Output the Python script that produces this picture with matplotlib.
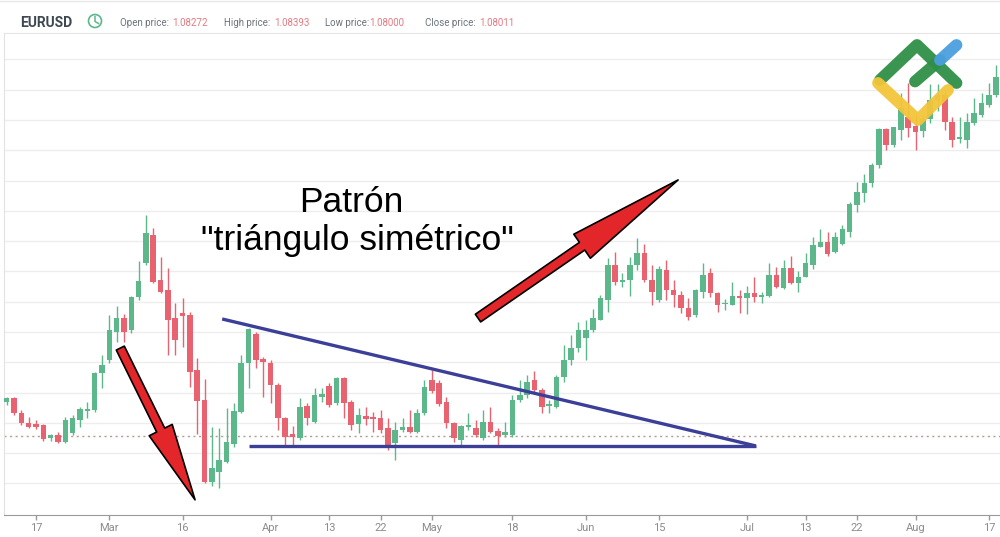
import numpy as np
import pandas as pd
import matplotlib
matplotlib.use("Agg")
import matplotlib.pyplot as plt
from matplotlib.patches import FancyArrowPatch, ArrowStyle, Circle
from matplotlib.lines import Line2D

# ---------------- data (EURUSD daily) ----------------
start_date = "2020-02-11"
end_date = "2020-08-18"

open_ = [1.0912, 1.0925, 1.0876, 1.0843, 1.0840, 1.0836, 1.0793, 1.0803, 1.0780, 1.0810,
         1.0853, 1.0883, 1.0886, 1.1008, 1.1051, 1.1143, 1.1189, 1.1150, 1.1259, 1.1371,
         1.1463, 1.1315, 1.1282, 1.1189, 1.1206, 1.1199, 1.1018, 1.0919, 1.0648, 1.0681,
         1.0714, 1.0774, 1.0879, 1.1041, 1.1137, 1.1054, 1.1041, 1.0968, 1.0859, 1.0807,
         1.0793, 1.0899, 1.0846, 1.0929, 1.0965, 1.0909, 1.0991, 1.0912, 1.0840, 1.0866,
         1.0863, 1.0859, 1.0826, 1.0777, 1.0820, 1.0830, 1.0813, 1.0876, 1.0985, 1.0975,
         1.0912, 1.0843, 1.0787, 1.0830, 1.0826, 1.0793, 1.0846, 1.0817, 1.0803, 1.0803,
         1.0919, 1.0935, 1.0985, 1.0952, 1.0899, 1.0896, 1.0995, 1.1051, 1.1090, 1.1123,
         1.1150, 1.1183, 1.1249, 1.1364, 1.1308, 1.1315, 1.1364, 1.1404, 1.1315, 1.1249,
         1.1348, 1.1282, 1.1265, 1.1222, 1.1199, 1.1275, 1.1338, 1.1272, 1.1236, 1.1232,
         1.1262, 1.1255, 1.1272, 1.1259, 1.1262, 1.1331, 1.1288, 1.1354, 1.1305, 1.1325,
         1.1364, 1.1424, 1.1440, 1.1407, 1.1434, 1.1473, 1.1562, 1.1602, 1.1635, 1.1694,
         1.1813, 1.1760, 1.1810, 1.1853, 1.1823, 1.1806, 1.1847, 1.1909, 1.1924, 1.1836,
         1.1780, 1.1777, 1.1833, 1.1859, 1.1892, 1.1925]
high = [1.0929, 1.0929, 1.0886, 1.0863, 1.0853, 1.0840, 1.0807, 1.0813, 1.0863, 1.0869,
        1.0896, 1.0912, 1.1011, 1.1067, 1.1199, 1.1229, 1.1203, 1.1262, 1.1378, 1.1529,
        1.1486, 1.1391, 1.1354, 1.1239, 1.1255, 1.1209, 1.1057, 1.0988, 1.0830, 1.0826,
        1.0892, 1.0909, 1.1067, 1.1156, 1.1143, 1.1061, 1.1051, 1.0975, 1.0863, 1.0833,
        1.0925, 1.0909, 1.0958, 1.0958, 1.0975, 1.0995, 1.0995, 1.0919, 1.0892, 1.0896,
        1.0879, 1.0886, 1.0859, 1.0846, 1.0859, 1.0886, 1.0889, 1.0985, 1.1018, 1.0985,
        1.0929, 1.0846, 1.0836, 1.0876, 1.0853, 1.0886, 1.0896, 1.0826, 1.0846, 1.0935,
        1.0985, 1.1001, 1.1015, 1.0958, 1.0919, 1.1001, 1.1100, 1.1133, 1.1176, 1.1183,
        1.1219, 1.1265, 1.1387, 1.1407, 1.1338, 1.1391, 1.1453, 1.1434, 1.1364, 1.1361,
        1.1381, 1.1315, 1.1279, 1.1255, 1.1285, 1.1371, 1.1354, 1.1275, 1.1252, 1.1308,
        1.1282, 1.1295, 1.1325, 1.1275, 1.1371, 1.1358, 1.1381, 1.1394, 1.1345, 1.1404,
        1.1457, 1.1483, 1.1473, 1.1473, 1.1496, 1.1572, 1.1638, 1.1665, 1.1701, 1.1816,
        1.1816, 1.1820, 1.1932, 1.1965, 1.1859, 1.1856, 1.1962, 1.1962, 1.1935, 1.1853,
        1.1853, 1.1866, 1.1915, 1.1932, 1.1965, 1.2024]
low = [1.0902, 1.0869, 1.0836, 1.0826, 1.0823, 1.0784, 1.0784, 1.0777, 1.0777, 1.0803,
       1.0830, 1.0859, 1.0879, 1.0958, 1.1041, 1.1110, 1.1110, 1.1140, 1.1249, 1.1364,
       1.1305, 1.1272, 1.1067, 1.1067, 1.1094, 1.0962, 1.0807, 1.0645, 1.0635, 1.0628,
       1.0711, 1.0764, 1.0876, 1.0958, 1.1024, 1.0929, 1.0909, 1.0820, 1.0770, 1.0767,
       1.0787, 1.0836, 1.0843, 1.0912, 1.0896, 1.0902, 1.0859, 1.0820, 1.0810, 1.0836,
       1.0813, 1.0810, 1.0754, 1.0721, 1.0813, 1.0810, 1.0810, 1.0869, 1.0942, 1.0899,
       1.0826, 1.0780, 1.0767, 1.0820, 1.0797, 1.0787, 1.0810, 1.0770, 1.0797, 1.0797,
       1.0912, 1.0925, 1.0942, 1.0876, 1.0876, 1.0892, 1.0978, 1.1034, 1.1077, 1.1051,
       1.1143, 1.1183, 1.1209, 1.1298, 1.1292, 1.1262, 1.1348, 1.1308, 1.1232, 1.1242,
       1.1249, 1.1226, 1.1206, 1.1183, 1.1193, 1.1255, 1.1259, 1.1209, 1.1216, 1.1232,
       1.1206, 1.1203, 1.1242, 1.1239, 1.1259, 1.1288, 1.1285, 1.1302, 1.1275, 1.1325,
       1.1351, 1.1424, 1.1394, 1.1404, 1.1430, 1.1457, 1.1539, 1.1572, 1.1622, 1.1684,
       1.1744, 1.1754, 1.1777, 1.1787, 1.1744, 1.1788, 1.1833, 1.1872, 1.1810, 1.1754,
       1.1767, 1.1750, 1.1826, 1.1853, 1.1886, 1.1919]
close = [1.0925, 1.0876, 1.0843, 1.0830, 1.0830, 1.0790, 1.0803, 1.0780, 1.0853, 1.0859,
         1.0889, 1.0889, 1.1008, 1.1034, 1.1150, 1.1189, 1.1143, 1.1259, 1.1312, 1.1470,
         1.1308, 1.1275, 1.1183, 1.1117, 1.1196, 1.1011, 1.0916, 1.0648, 1.0694, 1.0721,
         1.0780, 1.0883, 1.1041, 1.1153, 1.1051, 1.1044, 1.0968, 1.0859, 1.0797, 1.0797,
         1.0896, 1.0859, 1.0935, 1.0939, 1.0902, 1.0991, 1.0909, 1.0836, 1.0869, 1.0856,
         1.0856, 1.0820, 1.0770, 1.0820, 1.0830, 1.0813, 1.0876, 1.0962, 1.0949, 1.0906,
         1.0843, 1.0793, 1.0833, 1.0836, 1.0803, 1.0846, 1.0813, 1.0800, 1.0813, 1.0919,
         1.0935, 1.0978, 1.0952, 1.0896, 1.0906, 1.0995, 1.1051, 1.1090, 1.1150, 1.1150,
         1.1189, 1.1255, 1.1364, 1.1308, 1.1315, 1.1364, 1.1404, 1.1315, 1.1275, 1.1351,
         1.1282, 1.1265, 1.1222, 1.1193, 1.1282, 1.1331, 1.1272, 1.1232, 1.1239, 1.1262,
         1.1255, 1.1272, 1.1259, 1.1265, 1.1331, 1.1292, 1.1354, 1.1305, 1.1325, 1.1371,
         1.1430, 1.1440, 1.1401, 1.1457, 1.1483, 1.1566, 1.1605, 1.1635, 1.1694, 1.1813,
         1.1760, 1.1820, 1.1882, 1.1816, 1.1803, 1.1847, 1.1909, 1.1924, 1.1836, 1.1777,
         1.1787, 1.1836, 1.1866, 1.1899, 1.1925, 1.1985]

tick_dates = ["2020-02-17", "2020-03-02", "2020-03-16", "2020-04-01", "2020-04-13",
              "2020-04-22", "2020-05-01", "2020-05-18", "2020-06-01", "2020-06-15",
              "2020-07-01", "2020-07-13", "2020-07-22", "2020-08-03", "2020-08-17"]
tick_labels = ["17", "Mar", "16", "Apr", "13", "22", "May", "18", "Jun", "15",
               "Jul", "13", "22", "Aug", "17"]

header_symbol = "EURUSD"
header_fields = ["Open price:", "High price:", "Low price:", "Close price:"]
header_values = ["1.08272", "1.08393", "1.08000", "1.08011"]
last_close_level = 1.0801

# triangle pattern lines (date index, price) and arrows
upper_line_x = [29.4, 102.2]
upper_line_y = [1.1186, 1.0767]
support_x = [33.1, 102.2]
support_y = [1.0767, 1.0767]
arrow_down = [(15.5, 1.1090), (25.7, 1.0589)]
arrow_up = [(64.3, 1.1189), (91.6, 1.1645)]

title_lines = ["Patrón", "\"triángulo simétrico\""]

# ---------------- figure ----------------
W, H = 1000, 537
fig = plt.figure(figsize=(W / 100, H / 100), dpi=100)
fig.patch.set_facecolor("white")

ax = fig.add_axes([4 / W, 1 - 515 / H, 996 / W, (515 - 33) / H])

dates = pd.bdate_range(start_date, end_date)
x = np.arange(len(dates))
o = np.array(open_); c = np.array(close); hi = np.array(high); lo = np.array(low)
up = c >= o
green = "#5cb88a"
red = "#e8636f"
cols = np.where(up, green, red)

ax.vlines(x, lo, hi, colors=cols, lw=1.0, zorder=2)
body = np.maximum(np.abs(c - o), 0.00012)
ax.bar(x, body, bottom=np.minimum(o, c), width=0.76, color=cols, zorder=3, linewidth=0)

# grid
ppx = 7.33
ax.set_xlim(4 - 32 / ppx, 4 + 964 / ppx)
ax.set_ylim(1.0539, 1.2130)
for g in np.arange(1.0643, 1.2100, 0.01):
    ax.axhline(g, color="#ededed", lw=1, zorder=0)
ax.axhline(last_close_level, color="#b59a8e", lw=1, ls=(0, (1.5, 2.5)), zorder=1)

# ticks
tick_idx = dates.get_indexer(pd.to_datetime(tick_dates))
ax.set_xticks(tick_idx)
ax.set_xticklabels(tick_labels, family="Roboto")
ax.tick_params(axis="x", length=3.5, width=1, color="#9a9a9a", labelsize=8,
               labelcolor="#8c8c8c", pad=2)
ax.set_yticks([])
ax.spines["right"].set_visible(False)
ax.spines["bottom"].set_color("#9a9a9a")
ax.spines["left"].set_color("#e2e2e2")
ax.spines["top"].set_color("#e6e6e6")

# pattern lines
ax.plot(upper_line_x, upper_line_y, color="#3c3f98", lw=2.4, zorder=4, solid_capstyle="butt")
ax.plot(support_x, support_y, color="#3c3f98", lw=2.4, zorder=4, solid_capstyle="butt")

# arrows
a1 = FancyArrowPatch(arrow_down[0], arrow_down[1],
                     arrowstyle=ArrowStyle.Simple(head_length=1.0, head_width=0.33, tail_width=0.115),
                     mutation_scale=56, fc="#e3262a", ec="black", lw=1.2, zorder=6,
                     shrinkA=0, shrinkB=0)
a2 = FancyArrowPatch(arrow_up[0], arrow_up[1],
                     arrowstyle=ArrowStyle.Simple(head_length=1.0, head_width=0.25, tail_width=0.08),
                     mutation_scale=84, fc="#e3262a", ec="black", lw=1.2, zorder=6,
                     shrinkA=0, shrinkB=0)
ax.add_patch(a1)
ax.add_patch(a2)

# overlay axes in pixel coords for header / title / logo
ov = fig.add_axes([0, 0, 1, 1], zorder=10)
ov.set_xlim(0, W); ov.set_ylim(H, 0); ov.axis("off"); ov.patch.set_alpha(0)

ov.add_line(Line2D([0, W], [1, 1], color="#e8e8e8", lw=1))

ov.text(351.5, 212, title_lines[0], fontsize=25.5, family="Liberation Sans",
        ha="center", va="baseline", color="black")
ov.text(357.5, 250, title_lines[1], fontsize=25.5, family="Liberation Sans",
        ha="center", va="baseline", color="black")

ov.text(20, 27, header_symbol, fontsize=10, fontweight="bold", family="Roboto",
        color="#3d4852", va="baseline")
ov.add_patch(Circle((95, 21), 6.5, fill=False, ec=green, lw=1.2))
ov.add_line(Line2D([95, 95, 98.5], [16.5, 21.5, 23.5], color=green, lw=1.1))
label_x = [120, 224, 325, 425]
value_x = [172, 274, 369, 479]
for lx, vx, f, v in zip(label_x, value_x, header_fields, header_values):
    ov.text(lx, 26.5, f, fontsize=7, family="Roboto", color="#6b737b", va="baseline")
    ov.text(vx, 26.5, v, fontsize=7, family="Roboto", color="#e27a82", va="baseline")

# logo
lw_logo = 8.5
ov.add_line(Line2D([880, 917, 956.5], [80, 45, 83], color="#2f8f48", lw=lw_logo,
                   solid_capstyle="round", solid_joinstyle="round", alpha=0.95))
ov.add_line(Line2D([915, 940], [81.5, 60], color="#2f8f48", lw=lw_logo,
                   solid_capstyle="round", alpha=0.95))
ov.add_line(Line2D([940, 956.5], [60, 45], color="#4b9fe0", lw=lw_logo,
                   solid_capstyle="round", alpha=0.95))
ov.add_line(Line2D([878, 918, 948], [83, 120, 90], color="#f3c53a", lw=lw_logo,
                   solid_capstyle="round", solid_joinstyle="round", alpha=0.95))

fig.savefig("out.png", dpi=100)
